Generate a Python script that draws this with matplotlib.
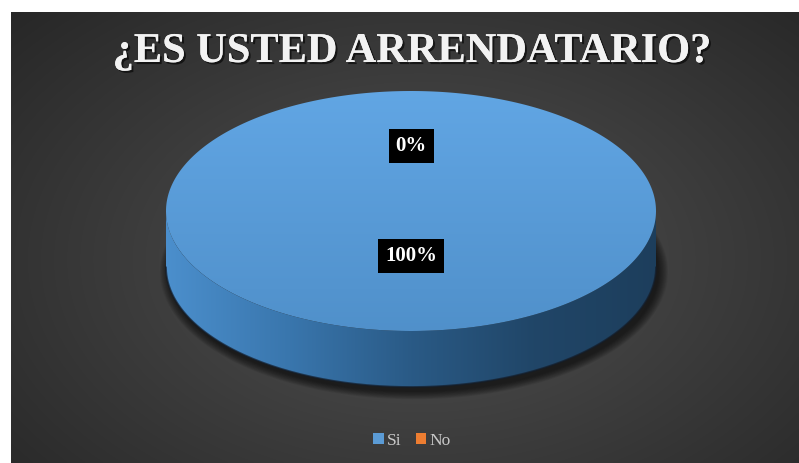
import numpy as np
import matplotlib.pyplot as plt
from matplotlib.patches import Polygon, Patch
from matplotlib.colors import to_rgb
import matplotlib.patheffects as pe

# Survey answers
categories = ['Si', 'No']
values = [100, 0]
slice_colors = ['#5B9BD5', '#ED7D31']
title = '¿ES USTED ARRENDATARIO?'

W, H = 799, 463
fig = plt.figure(figsize=(W / 100, H / 100), dpi=100, facecolor='white')
ax = fig.add_axes([0, 0, 1, 1])
ax.set_xlim(0, W)
ax.set_ylim(H, 0)
ax.axis('off')

# dark panel with a soft radial light in the middle
px0, py0, px1, py1 = 11, 12, 799, 463
gy, gx = np.mgrid[0:200, 0:300]
rx = (gx / 299 - 0.52) / 0.75
ry = (gy / 199 - 0.55) / 0.85
r = np.clip(np.sqrt(rx ** 2 + ry ** 2), 0, 1)
inner, outer = np.array(to_rgb('#525252')), np.array(to_rgb('#252525'))
bg = inner[None, None, :] * (1 - r[..., None]) + outer[None, None, :] * r[..., None]
ax.imshow(bg, extent=[px0, px1, py1, py0], aspect='auto', zorder=0, interpolation='bilinear')

# pie geometry (pixel units)
cx, cy = 411, 211
a, b = 245, 120
depth = 56


def ellipse_pts(t, dy=0):
    return np.column_stack([cx + a * np.cos(t), cy - b * np.sin(t) + dy])


def shade(color, f, sat=1.0):
    # darken, pulling the colour a little toward its dominant channel
    c = np.array(to_rgb(color))
    grey = c.mean()
    c = grey + (c - grey) * sat
    return np.clip(c * f, 0, 1)


def gradient_fill(poly, stops, horizontal=True, z=3):
    patch = Polygon(poly, closed=True, facecolor='none', edgecolor='none', zorder=z)
    ax.add_patch(patch)
    n = 256
    pos = np.linspace(0, 1, len(stops))
    ramp = np.linspace(0, 1, n)
    stops = np.array(stops)
    img = np.column_stack([np.interp(ramp, pos, stops[:, k]) for k in range(3)])
    img = img[None, :, :] if horizontal else img[:, None, :]
    xmin, ymin = poly.min(axis=0)
    xmax, ymax = poly.max(axis=0)
    im = ax.imshow(img, extent=[xmin, xmax, ymax, ymin], aspect='auto',
                   interpolation='bilinear', zorder=z)
    im.set_clip_path(patch)


# soft drop shadow under the pie
for k in range(10):
    grow = 9 - k
    t = np.linspace(0, 2 * np.pi, 300)
    sh = np.column_stack([cx + 3 + (a + grow) * np.cos(t),
                          cy + depth + 5 - (b + grow * 0.8) * np.sin(t)])
    ax.add_patch(Polygon(sh, closed=True, facecolor='black', edgecolor='none',
                         alpha=0.07, zorder=1))

total = float(sum(values))
start = np.pi / 2
label_pos = []
for val, col in zip(values, slice_colors):
    sweep = 2 * np.pi * val / total
    t0, t1 = start, start - sweep
    mid = (t0 + t1) / 2
    label_pos.append((cx + 0.46 * a * np.cos(mid), cy - 10 - 0.46 * b * np.sin(mid)))
    if sweep > 0:
        # front side wall: part of the arc below the centre line
        ts = np.linspace(t1, t0, 400)
        ts = np.where(ts > 0, ts - 2 * np.pi, ts)
        ts = np.sort(ts[(ts >= -np.pi) & (ts <= 0)])
        if len(ts) > 1:
            wall = np.vstack([ellipse_pts(ts), ellipse_pts(ts[::-1], depth)])
            gradient_fill(wall, [shade(col, 0.92, 1.15), shade(col, 0.76, 1.25),
                                 shade(col, 0.58, 1.3), shade(col, 0.45, 1.3),
                                 shade(col, 0.4, 1.3)], horizontal=True, z=3)
            bottom = ellipse_pts(ts, depth)
            ax.plot(bottom[:, 0], bottom[:, 1], color='#141c28', lw=1.3, alpha=0.7, zorder=3.5)
        # top face
        ts = np.linspace(t0, t1, 400)
        face = ellipse_pts(ts)
        if sweep < 2 * np.pi - 1e-9:
            face = np.vstack([[cx, cy], face])
        gradient_fill(face, [shade(col, 1.07), shade(col, 0.93, 1.08)], horizontal=False, z=4)
    start = t1

# percentage labels
for (lx, ly), val in zip(label_pos, values):
    ax.text(lx, ly, f'{val / total:.0%}', ha='center', va='center', color='white',
            fontsize=15, fontweight='bold', family='Liberation Serif', zorder=6,
            bbox=dict(boxstyle='square,pad=0.33', facecolor='black', edgecolor='none'))

ax.text(412, 52, title, ha='center', va='center', color='#f2f2f2', fontsize=30.5,
        fontweight='bold', family='Liberation Serif', zorder=6,
        path_effects=[pe.withSimplePatchShadow(offset=(1.5, -1.5), shadow_rgbFace='black', alpha=0.6),
                      pe.Normal()])

handles = [Patch(facecolor=c, edgecolor='none') for c in slice_colors]
fig.legend(handles, categories, loc='center', bbox_to_anchor=(412 / W, 1 - 441 / H),
           ncol=2, frameon=False, handlelength=0.6, handleheight=0.6,
           handletextpad=0.2, columnspacing=0.8,
           prop={'family': 'Liberation Serif', 'size': 12.5}, labelcolor='#c8c8c8')

fig.savefig('out.png', dpi=100, facecolor='white')
